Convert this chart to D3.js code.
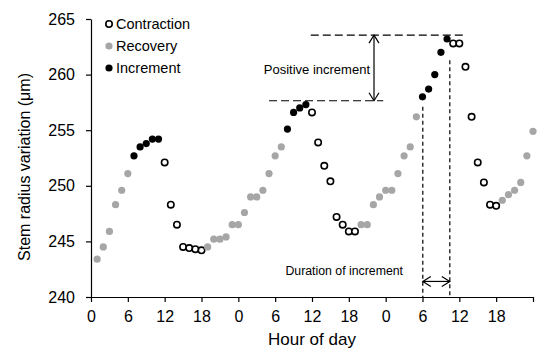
<!DOCTYPE html>
<html>
<head>
<meta charset="utf-8">
<script src="https://cdn.jsdelivr.net/npm/d3@7"></script>
<style>
  body { margin: 0; background: #fff; }
  svg { display: block; font-family: "Liberation Sans", Arial, sans-serif; }
</style>
</head>
<body>
<svg id="chart" width="550" height="358"></svg>
<script>
// Data: hourly stem radius (µm), hours 1..72
const hours = d3.range(1, 73);
const values = [
  243.4, 244.5, 245.9, 248.3, 249.6, 251.1, 252.7, 253.5, 253.8, 254.2, 254.2, 252.1,
  248.3, 246.5, 244.5, 244.4, 244.3, 244.2, 244.5, 245.2, 245.2, 245.4, 246.5, 246.5,
  247.6, 249.0, 249.0, 249.6, 251.1, 252.7, 253.5, 255.1, 256.6, 257.0, 257.3, 256.6,
  253.9, 251.8, 250.4, 247.2, 246.5, 245.9, 245.9, 246.5, 246.5, 248.3, 249.0, 249.6,
  249.6, 251.1, 252.7, 253.5, 256.2, 258.0, 258.7, 260.0, 262.0, 263.2, 262.8, 262.8,
  260.7, 256.2, 252.1, 250.3, 248.3, 248.2, 248.7, 249.2, 249.6, 250.3, 252.7, 254.9
];
// phase: C = contraction, R = recovery, I = increment
const phases = (
  "RRRRRRIIIIICCCCCCC" +
  "RRRRRRRRRRRRRIIIICCCCCCCC" +
  "RRRRRRRRRRIIIIICCCCCCCC" +
  "RRRRRR"
).split("");
const xTickValues = [0, 6, 12, 18, 24, 30, 36, 42, 48, 54, 60, 66, 72];
const xTickLabels = ["0", "6", "12", "18", "0", "6", "12", "18", "0", "6", "12", "18", ""];
const yTickValues = [240, 245, 250, 255, 260, 265];
const legendItems = [
  { key: "C", label: "Contraction" },
  { key: "R", label: "Recovery" },
  { key: "I", label: "Increment" }
];

const svg = d3.select("#chart");
const x = d3.scaleLinear().domain([0, 72]).range([91, 533]);
const y = d3.scaleLinear().domain([240, 265]).range([297, 19]);

const styleOf = {
  C: { fill: "#ffffff", stroke: "#000000", sw: 1.6 },
  R: { fill: "#a6a6a6", stroke: "none", sw: 0 },
  I: { fill: "#000000", stroke: "none", sw: 0 }
};

// Axes
const xAxis = d3.axisBottom(x).tickValues(xTickValues)
  .tickFormat((d, i) => xTickLabels[i]).tickSize(5).tickPadding(9).tickSizeOuter(0);
const yAxis = d3.axisLeft(y).tickValues(yTickValues)
  .tickSize(5).tickPadding(11).tickSizeOuter(0);

const gx = svg.append("g").attr("transform", "translate(0,297)").call(xAxis);
const gy = svg.append("g").attr("transform", "translate(91,0)").call(yAxis);
[gx, gy].forEach(g => {
  g.select(".domain").attr("stroke", "#000").attr("stroke-width", 1.2);
  g.selectAll(".tick line").attr("stroke", "#000").attr("stroke-width", 1.2);
  g.selectAll(".tick text").attr("fill", "#000").style("font-size", "16px")
    .style("font-family", "'Liberation Sans', Arial, sans-serif");
});

// Axis titles
svg.append("text").attr("x", 312).attr("y", 345).attr("text-anchor", "middle")
  .style("font-size", "17px").text("Hour of day");
svg.append("text").attr("transform", "translate(30,167) rotate(-90)")
  .attr("text-anchor", "middle").style("font-size", "16px")
  .text("Stem radius variation (μm)");

// Annotations (in data units)
const ann = svg.append("g").attr("stroke", "#000").attr("fill", "none");
// horizontal long-dash lines
ann.append("line").attr("x1", x(35.8)).attr("x2", x(61.2)).attr("y1", y(263.55)).attr("y2", y(263.55))
  .attr("stroke-width", 1.2).attr("stroke-dasharray", "8,4");
ann.append("line").attr("x1", x(29)).attr("x2", x(47.6)).attr("y1", y(257.65)).attr("y2", y(257.65))
  .attr("stroke-width", 1.2).attr("stroke-dasharray", "8,4");
// vertical double arrow
const ax = x(46.1), ay1 = y(263.55), ay2 = y(257.65);
ann.append("line").attr("x1", ax).attr("x2", ax).attr("y1", ay1).attr("y2", ay2).attr("stroke-width", 1.2);
ann.append("path").attr("d", `M${ax - 5},${ay1 + 8}L${ax},${ay1}L${ax + 5},${ay1 + 8}`).attr("stroke-width", 1.2);
ann.append("path").attr("d", `M${ax - 5},${ay2 - 8}L${ax},${ay2}L${ax + 5},${ay2 - 8}`).attr("stroke-width", 1.2);
// vertical short-dash lines
ann.append("line").attr("x1", x(54.05)).attr("x2", x(54.05)).attr("y1", y(257.1)).attr("y2", y(240))
  .attr("stroke-width", 1.2).attr("stroke-dasharray", "4,3");
ann.append("line").attr("x1", x(58.45)).attr("x2", x(58.45)).attr("y1", y(261.3)).attr("y2", y(240))
  .attr("stroke-width", 1.2).attr("stroke-dasharray", "4,3");
// horizontal double arrow
const hy = y(241.4), hx1 = x(54.05), hx2 = x(58.45);
ann.append("line").attr("x1", hx1).attr("x2", hx2).attr("y1", hy).attr("y2", hy).attr("stroke-width", 1.2);
ann.append("path").attr("d", `M${hx1 + 8},${hy - 5}L${hx1},${hy}L${hx1 + 8},${hy + 5}`).attr("stroke-width", 1.2);
ann.append("path").attr("d", `M${hx2 - 8},${hy - 5}L${hx2},${hy}L${hx2 - 8},${hy + 5}`).attr("stroke-width", 1.2);

svg.append("text").attr("x", 370).attr("y", 74).attr("text-anchor", "end")
  .style("font-size", "13px").text("Positive increment");
svg.append("text").attr("x", 403).attr("y", 275).attr("text-anchor", "end")
  .style("font-size", "12.3px").text("Duration of increment");

// Points
const data = hours.map((h, i) => ({ h, v: values[i], p: phases[i] }));
svg.append("g").selectAll("circle").data(data).join("circle")
  .attr("cx", d => x(d.h)).attr("cy", d => y(d.v)).attr("r", d => d.p === "C" ? 3.2 : 3.6)
  .attr("fill", d => styleOf[d.p].fill)
  .attr("stroke", d => styleOf[d.p].stroke)
  .attr("stroke-width", d => styleOf[d.p].sw);

// Legend
const lg = svg.append("g");
legendItems.forEach((it, i) => {
  const cy = 24 + i * 22;
  lg.append("circle").attr("cx", 109).attr("cy", cy).attr("r", it.key === "C" ? 3.2 : 3.6)
    .attr("fill", styleOf[it.key].fill).attr("stroke", styleOf[it.key].stroke)
    .attr("stroke-width", styleOf[it.key].sw);
  lg.append("text").attr("x", 116).attr("y", cy + 5).style("font-size", "14.5px").text(it.label);
});
</script>
</body>
</html>
